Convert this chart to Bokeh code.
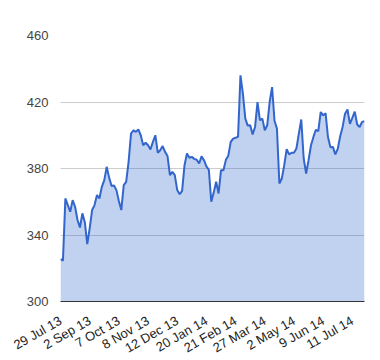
import math
import numpy as np
from bokeh.plotting import figure
from bokeh.models import FixedTicker, Range1d
from bokeh.embed import file_html
from bokeh.resources import INLINE

# closing values, sampled every 2nd trading day
values = [
    325.5, 324.5, 362, 358, 354, 361, 357, 349, 344.5, 353,
    347.7, 334.5, 344, 355, 358, 364, 362, 369, 373, 381,
    374.5, 369.5, 369.8, 367, 360.5, 355, 370, 372, 384, 401,
    403, 402, 403.5, 400, 394, 395.5, 394, 391.5, 396, 400,
    389.5, 391, 393.5, 390, 387.5, 376, 378, 376, 367, 364.5,
    366.5, 382, 389, 386.5, 387, 385.8, 385.3, 383, 387.3, 385,
    381.3, 379.2, 360, 365.5, 372, 365, 379, 379, 385.2, 387.7,
    396, 398, 398.5, 399, 436, 425, 410, 405.8, 406, 400.5,
    405, 419.9, 409, 410, 403, 406, 420, 429, 408.7, 404,
    371, 374, 382, 391.6, 388.5, 389.5, 389.5, 392, 401, 409.5,
    386, 377, 385, 394, 399, 403.3, 402.5, 414, 412, 413.2,
    398.8, 392.8, 393, 388.5, 391.8, 399.4, 405, 413, 415.5, 406.8,
    410.5, 414.2, 406.5, 405, 408, 408.5,
]
step = 2
tick_labels = ["29 Jul 13", "2 Sep 13", "7 Oct 13", "8 Nov 13", "12 Dec 13",
               "20 Jan 14", "21 Feb 14", "27 Mar 14", "2 May 14", "9 Jun 14", "11 Jul 14"]
label_every = 24
y_ticks = [300, 340, 380, 420, 460]

x = np.arange(len(values)) * step
x_ticks = [i * label_every for i in range(len(tick_labels))]

p = figure(frame_width=304, frame_height=266, output_backend="svg", toolbar_location=None,
           x_range=Range1d(0, x[-1]), y_range=Range1d(300, 460),
           min_border_left=60, min_border_right=8, min_border_top=35, min_border_bottom=20)
p.outline_line_color = None
p.background_fill_color = "white"
p.border_fill_color = "white"

p.varea(x=x, y1=300, y2=values, fill_color="#3366cc", fill_alpha=0.3)
p.line(x=x, y=values, line_color="#3366cc", line_width=2)

p.xgrid.visible = False
p.ygrid.grid_line_color = "#cccccc"
p.ygrid.grid_line_width = 1

p.yaxis.ticker = FixedTicker(ticks=y_ticks)
p.yaxis.axis_line_color = None
p.yaxis.major_tick_line_color = None
p.yaxis.minor_tick_line_color = None
p.yaxis.major_tick_out = 0
p.yaxis.major_tick_in = 0
p.yaxis.major_label_text_font = "Liberation Sans"
p.yaxis.major_label_text_font_size = "13px"
p.yaxis.major_label_text_color = "#444444"
p.yaxis.major_label_standoff = 12

p.xaxis.ticker = FixedTicker(ticks=x_ticks)
p.xaxis.major_label_overrides = {t: l for t, l in zip(x_ticks, tick_labels)}
p.xaxis.major_label_orientation = math.pi / 6
p.xaxis.axis_line_color = "#333333"
p.xaxis.axis_line_width = 1
p.xaxis.major_tick_line_color = None
p.xaxis.minor_tick_line_color = None
p.xaxis.major_tick_out = 0
p.xaxis.major_tick_in = 0
p.xaxis.major_label_text_font = "Liberation Sans"
p.xaxis.major_label_text_font_size = "13px"
p.xaxis.major_label_text_color = "#222222"
p.xaxis.major_label_standoff = 18

open("out.html", "w").write(file_html(p, INLINE))
